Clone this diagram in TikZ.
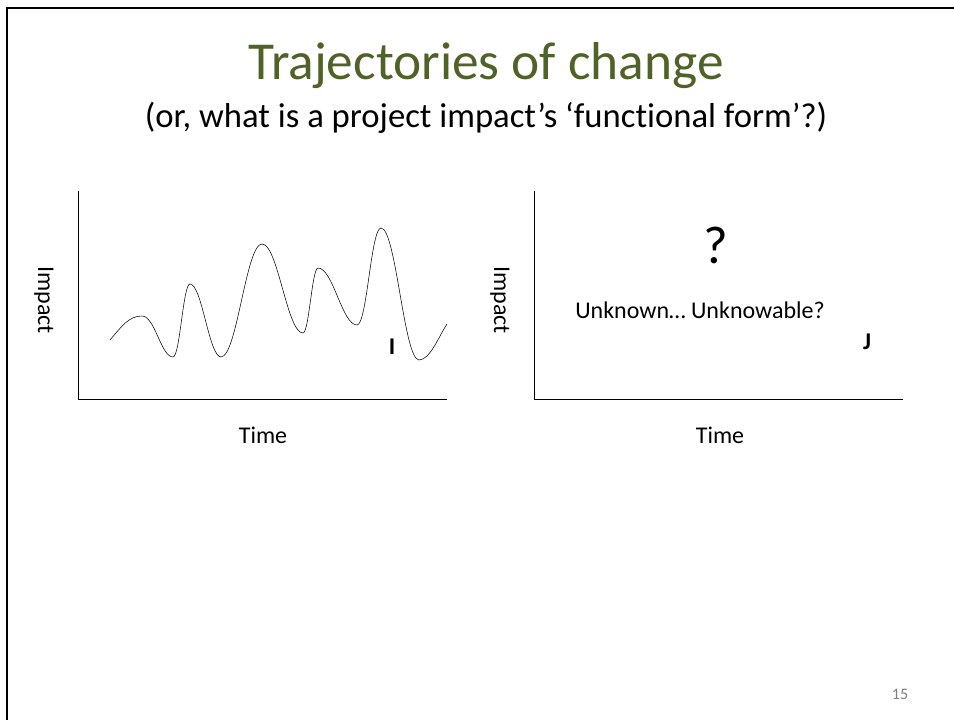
\documentclass[tikz,border=0pt]{standalone}
\usepackage{fontspec}
\setmainfont{Carlito}[Ligatures=NoCommon]
\usepackage{tikz}
\definecolor{olive}{RGB}{79,98,40}
\def\olive{\textcolor{olive}}

\begin{document}
\begin{tikzpicture}[x=0.75pt,y=-0.75pt]
\useasboundingbox (0,0) rectangle (954,720);

% slide frame
\draw[line width=2pt] (7,720) -- (7,8) -- (954,8);

% headings
\node (title) at (486,66) {\fontsize{40}{48}\selectfont\olive{Trajectories of change}};
\node (sub) at (486,118) {\fontsize{26}{32}\selectfont (or, what is a project impact’s ‘functional form’?)};

%left plot
\coordinate (Ltop) at (78,191);\coordinate (Lo) at (78,399);\coordinate (Lend) at (447,399);
\draw (Ltop) -- (Lo) -- (Lend);
\node[rotate=-90] (Limp) at (44,300) {\fontsize{18}{22}\selectfont Impact};
\node (Ltime) at (263,435) {\fontsize{18}{22}\selectfont Time};
\node (Lmark) at (392,347) {\fontsize{18}{22}\selectfont\bfseries I};
\draw (110,340) .. controls +(12,-14) and +(-13,0) .. (142,316)
  .. controls +(13,0) and +(-12,0) .. (173,357)
  .. controls +(7,0) and +(-7,0) .. (190,284)
  .. controls +(12,0) and +(-12,0) .. (221,357)
  .. controls +(16,0) and +(-16,0) .. (262,244)
  .. controls +(16,0) and +(-16,0) .. (303,333)
  .. controls +(6,0) and +(-6,0) .. (318,268)
  .. controls +(15,0) and +(-15,0) .. (357,325)
  .. controls +(10,0) and +(-10,0) .. (381,228)
  .. controls +(15,0) and +(-15,0) .. (419,360)
  .. controls +(11,0) and +(-8,12) .. (447,324);

%right plot
\coordinate (Rtop) at (534,191);\coordinate (Ro) at (534,399);\coordinate (Rend) at (903,399);
\draw (Rtop) -- (Ro) -- (Rend);
\node[rotate=-90] (Rimp) at (500,300) {\fontsize{18}{22}\selectfont Impact};
\node (Rtime) at (720,435) {\fontsize{18}{22}\selectfont Time};
\node (quest) at (716,245) {\fontsize{40}{48}\selectfont ?};
\node (unk) at (700,310) {\fontsize{18}{22}\selectfont Unknown… Unknowable?};
\node (Rmark) at (867,342) {\fontsize{18}{22}\selectfont\bfseries J};

% page number
\node[gray] (page) at (900,694) {\fontsize{12}{14}\selectfont 15};

\end{tikzpicture}
\end{document}
